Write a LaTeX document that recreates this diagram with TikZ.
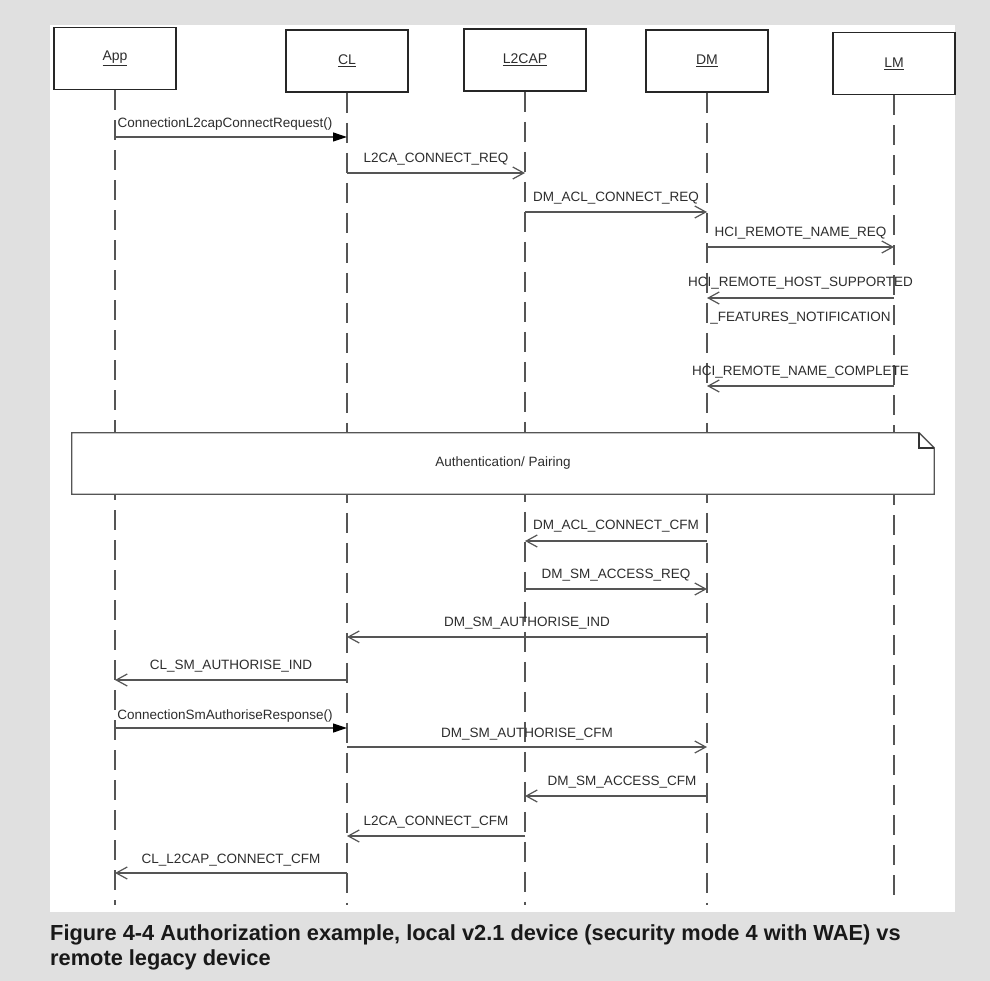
\documentclass[tikz,border=0pt]{standalone}
\usepackage{fontspec}
\setmainfont{Liberation Sans}
\usetikzlibrary{positioning}
\usetikzlibrary{arrows.meta}
\definecolor{pagegray}{RGB}{224,224,224}
\definecolor{linegray}{RGB}{85,85,85}
\definecolor{textgray}{RGB}{45,45,45}
\tikzset{
    objbox/.style = {rectangle, line width=1.6pt, draw=black!85, fill=white, minimum width=122pt, minimum height=62pt, inner sep=0pt, font=\fontsize{14}{16}\selectfont, text=textgray},
    lifeline/.style = {line width=1.3pt, linegray, dash pattern=on 20pt off 10pt},
    msgo/.style = {line width=1.2pt, linegray, -{Straight Barb[length=11pt,width=12pt]}}, % asynchronous
    msgf/.style = {line width=1.2pt, linegray, -{Triangle[length=14pt,width=9pt,color=black]}}, % call
    lbl/.style = {inner sep=0pt, anchor=base, font=\fontsize{13.5}{15}\selectfont, text=textgray},
    notebox/.style = {rectangle, draw=none, fill=white, minimum width=862pt, minimum height=61pt, inner sep=0pt, font=\fontsize{13.5}{15}\selectfont, text=textgray},
    noteline/.style = {line width=1.3pt, linegray},
    foldline/.style = {line width=2pt, black!80},
    captxt/.style = {inner sep=0pt, anchor=base west, font=\bfseries\fontsize{21.8}{25}\selectfont, text=black!90}
}
\begin{document}
\begin{tikzpicture}[x=1pt,y=-1pt]
%
\fill[pagegray] (0,0) rectangle (990,981);
\fill[white] (50,25) rectangle (955,912);
\useasboundingbox (0,0) rectangle (990,981);
%
\coordinate (bottom) at (0,905);
\node[objbox] at (115,58.5) (App) {\underline{App}};
\node[objbox] at (347,61) (CL) {\underline{CL}};
\node[objbox] at (525,60) (L2CAP) {\underline{L2CAP}};
\node[objbox] at (707,61) (DM) {\underline{DM}};
\node[objbox] at (894,63.5) (LM) {\underline{LM}};
%
\foreach \obj in {App,CL,L2CAP,DM,LM}
    \draw[lifeline] (\obj.south) -- (\obj |- bottom);
%
\coordinate (m1) at (0,137);
\coordinate (m2) at (0,173);
\coordinate (m3) at (0,212);
\coordinate (m4) at (0,247);
\coordinate (m5) at (0,298);
\coordinate (m6) at (0,386);
\coordinate (m7) at (0,541);
\coordinate (m8) at (0,589);
\coordinate (m9) at (0,637);
\coordinate (m10) at (0,680);
\coordinate (m11) at (0,728);
\coordinate (m12) at (0,747);
\coordinate (m13) at (0,796);
\coordinate (m14) at (0,836);
\coordinate (m15) at (0,873);
%
\draw[msgf] (App |- m1) -- node[lbl, xshift=-6pt, yshift=9pt] {ConnectionL2capConnectRequest()} (CL |- m1);
\draw[msgo] (CL |- m2) -- node[lbl, yshift=10pt] {L2CA\_CONNECT\_REQ} (L2CAP |- m2);
\draw[msgo] (L2CAP |- m3) -- node[lbl, yshift=10pt] {DM\_ACL\_CONNECT\_REQ} (DM |- m3);
\draw[msgo] (DM |- m4) -- node[lbl, yshift=10pt] {HCI\_REMOTE\_NAME\_REQ} (LM |- m4);
\draw[msgo] (LM |- m5) -- node[lbl, yshift=11pt] {HCI\_REMOTE\_HOST\_SUPPORTED}
    node[lbl, yshift=-24pt] {\_FEATURES\_NOTIFICATION} (DM |- m5);
\draw[msgo] (LM |- m6) -- node[lbl, yshift=11pt] {HCI\_REMOTE\_NAME\_COMPLETE} (DM |- m6);
%
\node[notebox] at (503,463.5) (auth) {Authentication/ Pairing};
\draw[noteline] (auth.north west) -- ([xshift=-15pt]auth.north east) -- ([yshift=-15pt]auth.north east)
    -- (auth.south east) -- (auth.south west) -- cycle;
\draw[foldline] ([xshift=-15pt]auth.north east) -- ([xshift=-15pt,yshift=-15pt]auth.north east) -- ([yshift=-15pt]auth.north east);
%
\draw[msgo] (DM |- m7) -- node[lbl, yshift=12pt] {DM\_ACL\_CONNECT\_CFM} (L2CAP |- m7);
\draw[msgo] (L2CAP |- m8) -- node[lbl, yshift=11pt] {DM\_SM\_ACCESS\_REQ} (DM |- m8);
\draw[msgo] (DM |- m9) -- node[lbl, yshift=11pt] {DM\_SM\_AUTHORISE\_IND} (CL |- m9);
\draw[msgo] (CL |- m10) -- node[lbl, yshift=11pt] {CL\_SM\_AUTHORISE\_IND} (App |- m10);
\draw[msgf] (App |- m11) -- node[lbl, xshift=-6pt, yshift=9pt] {ConnectionSmAuthoriseResponse()} (CL |- m11);
\draw[msgo] (CL |- m12) -- node[lbl, yshift=10pt] {DM\_SM\_AUTHORISE\_CFM} (DM |- m12);
\draw[msgo] (DM |- m13) -- node[lbl, xshift=6pt, yshift=11pt] {DM\_SM\_ACCESS\_CFM} (L2CAP |- m13);
\draw[msgo] (L2CAP |- m14) -- node[lbl, yshift=11pt] {L2CA\_CONNECT\_CFM} (CL |- m14);
\draw[msgo] (CL |- m15) -- node[lbl, yshift=10pt] {CL\_L2CAP\_CONNECT\_CFM} (App |- m15);
%
\node[captxt] at (50,940) (cap1) {Figure 4-4 Authorization example, local v2.1 device (security mode 4 with WAE) vs};
\node[captxt] at (50,965) (cap2) {remote legacy device};
\end{tikzpicture}
\end{document}
